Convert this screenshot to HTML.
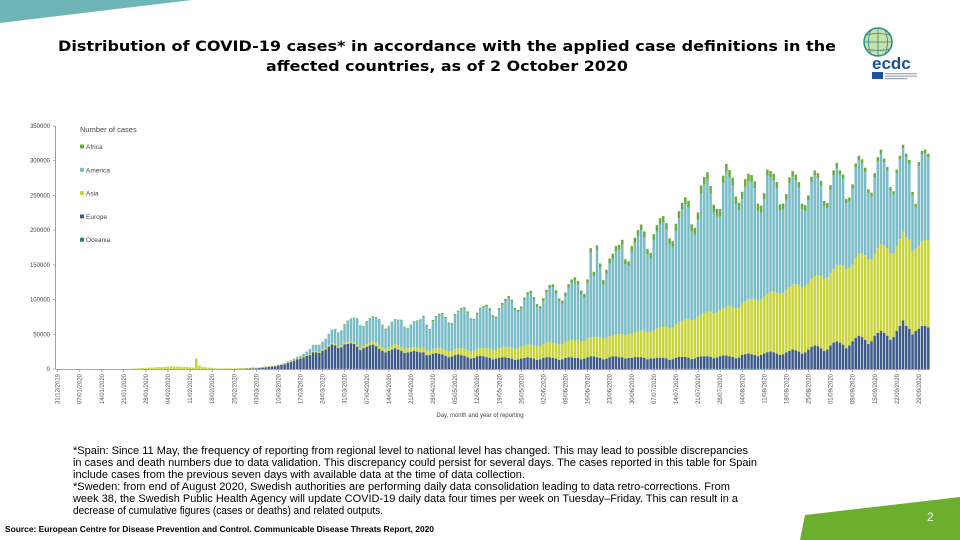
<!DOCTYPE html>
<html><head><meta charset="utf-8">
<style>
html,body{margin:0;padding:0;background:#fff;width:960px;height:540px;overflow:hidden}
svg{display:block;font-family:"Liberation Sans",sans-serif}
</style></head>
<body>
<svg id="root" width="960" height="540" viewBox="0 0 960 540" xmlns="http://www.w3.org/2000/svg">
  <polygon points="0,0 192,0 0,23" fill="#6fb5b8"/>
  <polygon points="805,515 960,497 960,540 800,540" fill="#6cae2e"/>
  <text x="927" y="521" font-size="12" fill="#fff">2</text>

  <g font-family="DejaVu Sans, sans-serif" font-weight="bold" font-size="14" text-anchor="middle" fill="#000">
    <text x="447" y="51" textLength="778" lengthAdjust="spacingAndGlyphs">Distribution of COVID-19 cases* in accordance with the applied case definitions in the</text>
    <text x="447" y="71" textLength="362" lengthAdjust="spacingAndGlyphs">affected countries, as of 2 October 2020</text>
  </g>

  <g>
    <circle cx="878" cy="42" r="14" fill="#c9e0a8" stroke="#2a8a8a" stroke-width="1.5"/>
    <path d="M864,42 H892 M878,28 V56 M866,35 Q878,32 890,35 M866,49 Q878,52 890,49 M871,30 Q866,42 871,54 M885,30 Q890,42 885,54" stroke="#2a8a8a" stroke-width="0.8" fill="none"/>
    <text x="872" y="69" font-size="17" fill="#1d4f9c" font-weight="bold">ecdc</text>
    <rect x="872" y="72" width="11" height="7" fill="#1d4fa0"/>
    <rect x="885" y="73" width="32" height="1.2" fill="#9aa9c8"/>
    <rect x="885" y="75.5" width="32" height="1.2" fill="#9aa9c8"/>
    <rect x="885" y="78" width="22" height="1.2" fill="#9aa9c8"/>
  </g>

  <g id="chart"></g>

  <g font-size="11" fill="#000">
    <text x="73" y="454" textLength="675" lengthAdjust="spacingAndGlyphs">*Spain: Since 11 May, the frequency of reporting from regional level to national level has changed. This may lead to possible discrepancies</text>
    <text x="73" y="466" textLength="684" lengthAdjust="spacingAndGlyphs">in cases and death numbers due to data validation. This discrepancy could persist for several days. The cases reported in this table for Spain</text>
    <text x="73" y="478" textLength="452" lengthAdjust="spacingAndGlyphs">include cases from the previous seven days with available data at the time of data collection.</text>
    <text x="73" y="490" textLength="657" lengthAdjust="spacingAndGlyphs">*Sweden: from end of August 2020, Swedish authorities are performing daily data consolidation leading to data retro-corrections. From</text>
    <text x="73" y="502" textLength="665" lengthAdjust="spacingAndGlyphs">week 38, the Swedish Public Health Agency will update COVID-19 daily data four times per week on Tuesday–Friday. This can result in a</text>
    <text x="73" y="514" textLength="310" lengthAdjust="spacingAndGlyphs">decrease of cumulative figures (cases or deaths) and related outputs.</text>
  </g>
  <text x="5" y="532" font-size="8" font-weight="bold" textLength="429" lengthAdjust="spacingAndGlyphs">Source: European Centre for Disease Prevention and Control. Communicable Disease Threats Report, 2020</text>
</svg>
<script>
// ---- data (thousands of cases per day, 31/12/2019 .. 02/10/2020), one row per week starting Tuesday ----
const tickLabels = ["31/12/2019","07/01/2020","14/01/2020","21/01/2020","28/01/2020","04/02/2020","11/02/2020","18/02/2020","25/02/2020","03/03/2020","10/03/2020","17/03/2020","24/03/2020","31/03/2020","07/04/2020","14/04/2020","21/04/2020","28/04/2020","05/05/2020","12/05/2020","19/05/2020","26/05/2020","02/06/2020","09/06/2020","16/06/2020","23/06/2020","30/06/2020","07/07/2020","14/07/2020","21/07/2020","28/07/2020","04/08/2020","11/08/2020","18/08/2020","25/08/2020","01/09/2020","08/09/2020","15/09/2020","22/09/2020","29/09/2020"];
const yTicks = [0,50000,100000,150000,200000,250000,300000,350000];
const seriesNames = ["Oceania","Europe","Asia","America","Africa"];
const europe = [
0,0,0,0,0,0,0, 0,0,0,0,0,0,0, 0,0,0,0,0,0,0, 0,0,0,0,0,0,0, 0,0,0,0,0,0,0, 0,0,0,0,0,0,0, 0,0,0,0,0,0,0, 0,0,0,0,0,0,0,
0.1,0.2,0.3,0.4,0.6,0.8,1.0, 1,1.5,2,2.5,3,3.5,4, 5,6,7,9,10,12,14, 15,17,19,20,24,24,23, 26,28,32,35,34,30,31,
35,36,37,36,32,27,30, 32,34,35,33,29,26,24, 26,28,30,28,26,23,24, 25,26,25,24,24,20,20, 22,23,22,21,19,17,18,
20,21,20,19,17,15,16, 18,19,18,17,16,14,15, 16,17,17,16,15,13,14, 15,16,17,16,15,13,14, 16,17,17,16,15,13,14,
16,17,17,16,16,14,15, 17,18,18,17,16,14,15, 17,18,18,17,17,15,16, 16,17,17,17,16,14,15, 15,16,16,16,15,13,14,
16,17,17,17,16,14,15, 17,18,18,18,17,15,16, 18,19,19,18,17,15,16, 20,21,22,21,20,18,20, 22,24,25,24,22,20,21,
24,26,28,27,25,22,24, 28,32,34,33,30,26,28, 34,38,40,38,35,30,34, 40,45,48,46,42,36,40, 48,52,55,52,48,42,46,
55,62,70,62,58,50,55, 58,62,62,60];
const asia = [
0,0,0,0,0,0,0, 0,0,0,0,0,0,0, 0,0,0,0,0,0,0, 0.1,0.2,0.3,0.5,0.7,1,1.5, 1.7,2,2,2.5,2.8,2.8,3, 3.5,3.8,3.8,3.5,3.3,3,3, 2.5,2,15,5,3,2.5,2, 1.8,0.8,0.8,1,1,1,1,
1,1,1,1,1,1,1.5, 1,1,1,1,1,1,1, 1,1,1,1,1,1,1, 1,1,1,1.5,1.5,1.5,1.5, 2,2,2,2,2,2,2,
3,3,3,3,3,3,3, 4,4,5,5,5,5,5, 5,6,6,6,6,6,6, 6,6,6,6,7,7,6, 7,7,8,8,8,8,8,
9,9,10,10,10,10,10, 11,12,12,13,13,13,13, 14,15,15,16,16,16,16, 17,18,18,19,19,19,19, 20,21,22,22,22,22,22,
23,24,25,25,26,26,26, 27,28,28,29,30,30,30, 30,31,32,33,34,34,34, 35,36,37,38,39,39,39, 40,42,44,45,46,46,46,
48,50,52,55,56,56,56, 58,60,62,64,65,65,65, 66,68,70,72,72,72,72, 74,76,78,80,80,80,80, 82,84,86,88,88,88,88,
90,92,94,95,96,96,96, 95,98,100,102,104,104,104, 104,106,110,112,114,114,112, 110,115,118,120,122,122,118, 118,122,125,126,126,125,120,
122,125,128,128,128,120,118, 120,122,124,125];
const america = [
0,0,0,0,0,0,0, 0,0,0,0,0,0,0, 0,0,0,0,0,0,0, 0,0,0,0,0,0,0, 0,0,0,0,0,0,0, 0,0,0,0,0,0,0, 0,0,0,0,0,0,0, 0,0,0,0,0,0,0,
0,0,0,0,0,0,0, 0,0,0,0.1,0.1,0.1,0.2, 0.3,0.5,0.8,1,1.5,2,2.5, 3,4,5,7,9,9,10, 11,13,16,19,21,20,22,
26,30,32,34,37,32,28, 32,34,35,36,37,32,28, 30,33,35,36,38,31,28, 32,36,38,40,44,35,30, 40,45,48,50,46,40,38,
48,52,56,58,54,46,44, 50,55,58,60,56,48,45, 55,60,66,70,66,56,52, 55,66,72,74,66,58,54, 62,72,78,80,72,62,58,
66,76,82,86,80,68,62, 80,122,88,126,100,78,92, 105,110,120,122,128,102,98, 118,128,138,145,135,112,105, 130,140,148,150,140,120,115,
135,150,160,165,160,128,122, 140,175,185,190,170,145,138, 135,180,195,185,175,150,140, 150,165,170,168,160,130,125, 140,170,165,160,150,120,120,
130,150,155,150,140,112,108, 120,140,145,140,130,105,100, 120,135,140,130,125,95,95, 110,130,135,130,120,95,90, 110,125,130,120,112,90,85,
105,115,120,115,110,80,60, 115,125,125,120];
const africa = [
0,0,0,0,0,0,0, 0,0,0,0,0,0,0, 0,0,0,0,0,0,0, 0,0,0,0,0,0,0, 0,0,0,0,0,0,0, 0,0,0,0,0,0,0, 0,0,0,0,0,0,0, 0,0,0,0,0,0,0,
0,0,0,0,0,0,0, 0,0,0,0,0,0,0, 0,0,0,0,0,0,0.1, 0.1,0.1,0.1,0.2,0.2,0.2,0.3, 0.3,0.3,0.4,0.4,0.5,0.5,0.5,
0.6,0.6,0.7,0.8,0.8,0.8,0.9, 1,1,1,1,1,1,1, 1,1,1,1,1,1,1, 1,1,1,1.5,1.5,1.5,1.5, 1.5,1.5,1.5,1.5,2,2,2,
2,2,2,2,2,2,2, 2,2,2.5,2.5,2.5,2.5,2.5, 2.5,3,3,3,3,3,3, 3,3,3.5,3.5,3.5,3.5,3.5, 4,4,4,4,4.5,4.5,4.5,
5,5,5,5,5,5,5, 5,6,6,6,6,6,6, 7,7,7,7,7,7,7, 8,8,8,8,8,8,8, 9,9,9,9,9,9,9,
10,10,10,10,10,10,10, 10,11,11,11,11,11,11, 11,11,11,11,11,11,11, 11,11,11,10,10,10,10, 9,9,9,9,9,9,9,
8,8,8,8,8,8,8, 7,7,7,7,7,7,7, 7,7,7,6,6,6,6, 6,6,6,6,6,6,6, 6,6,6,5,5,5,5,
5,5,5,5,5,5,5, 5,5,5,5];
const oceania = [
0,0,0,0,0,0,0, 0,0,0,0,0,0,0, 0,0,0,0,0,0,0, 0,0,0,0,0,0,0, 0,0,0,0,0,0,0, 0,0,0,0,0,0,0, 0,0,0,0,0,0,0, 0,0,0,0,0,0,0,
0,0,0,0,0,0,0, 0,0,0,0,0,0,0, 0,0,0,0,0,0,0, 0,0,0,0.1,0.1,0.1,0.1, 0.2,0.2,0.3,0.3,0.3,0.3,0.3,
0.3,0.3,0.2,0.2,0.2,0.2,0.1, 0.1,0.1,0.1,0,0,0,0, 0,0,0,0,0,0,0, 0,0,0,0,0,0,0, 0,0,0,0,0,0,0,
0,0,0,0,0,0,0, 0,0,0,0,0,0,0, 0,0,0,0,0,0,0, 0,0,0,0,0,0,0, 0,0,0,0,0,0,0,
0,0,0,0,0,0,0, 0,0,0,0,0,0,0, 0,0,0,0,0,0,0, 0.1,0.1,0.1,0.1,0.1,0.1,0.1, 0.2,0.2,0.2,0.2,0.2,0.2,0.2,
0.3,0.3,0.3,0.3,0.3,0.3,0.3, 0.4,0.4,0.4,0.5,0.5,0.5,0.5, 0.5,0.5,0.5,0.5,0.5,0.5,0.5, 0.4,0.4,0.4,0.4,0.3,0.3,0.3, 0.3,0.3,0.2,0.2,0.2,0.2,0.2,
0.1,0.1,0.1,0.1,0.1,0.1,0.1, 0,0,0,0,0,0,0, 0,0,0,0,0,0,0, 0,0,0,0,0,0,0, 0,0,0,0,0,0,0,
0,0,0,0,0,0,0, 0,0,0,0];

const NS = "http://www.w3.org/2000/svg";
const colors = {Oceania:"#2b7f7b", Europe:"#3d5a8b", Asia:"#c9d43b", America:"#79bcc7", Africa:"#6aab3d"};
const seriesData = {Oceania:oceania, Europe:europe, Asia:asia, America:america, Africa:africa};
const plot = {x0:56, x1:930, yBase:369, yTop:126, yMax:350000};
const nDays = europe.length;
const bandW = (plot.x1 - plot.x0) / nDays;
function xScale(i){ return plot.x0 + i * bandW; }
function yScale(v){ return plot.yBase - (v / plot.yMax) * (plot.yBase - plot.yTop); }
const chart = document.getElementById("chart");
function mk(tag, attrs){ const e = document.createElementNS(NS, tag); for (const k in attrs) e.setAttribute(k, attrs[k]); return e; }

// bars
const barsG = mk("g", {});


chart.appendChild(barsG);
for (let i = 0; i < nDays; i++) {
  let cum = 0;
  for (const s of seriesNames) {
    const v = seriesData[s][i] * 1000;
    if (v <= 0) continue;
    const yA = yScale(cum), yB = yScale(cum + v);
    const r = mk("rect", {x: xScale(i) + 0.2, y: yB, width: bandW - 0.65, height: yA - yB, fill: colors[s]});
    
    
    barsG.appendChild(r);
    cum += v;
  }
}

// axes
const yAxis = mk("line", {x1: plot.x0 - 0.5, x2: plot.x0 - 0.5, y1: plot.yTop, y2: plot.yBase, stroke: "#888", "stroke-width": 0.8});


chart.appendChild(yAxis);
const xAxis = mk("line", {x1: plot.x0 - 0.5, x2: plot.x1, y1: plot.yBase + 0.5, y2: plot.yBase + 0.5, stroke: "#888", "stroke-width": 0.8});


chart.appendChild(xAxis);

for (const t of yTicks) {
  const y = yScale(t);
  const tk = mk("line", {x1: plot.x0 - 3, x2: plot.x0 - 0.5, y1: y, y2: y, stroke: "#888", "stroke-width": 0.6});
  
  
  chart.appendChild(tk);
  const tx = mk("text", {x: plot.x0 - 6, y: y + 2, "font-size": 6, fill: "#444", "text-anchor": "end"});
  tx.textContent = String(t);
  
  
  chart.appendChild(tx);
}
for (let k = 0; k < tickLabels.length; k++) {
  const x = xScale(k * 7) + bandW / 2;
  const tk = mk("line", {x1: x, x2: x, y1: plot.yBase, y2: plot.yBase + 3, stroke: "#888", "stroke-width": 0.6});
  
  
  chart.appendChild(tk);
  const tx = mk("text", {x: 0, y: 0, "font-size": 6, fill: "#555", "text-anchor": "end", transform: "translate(" + (x + 2) + "," + (plot.yBase + 5) + ") rotate(-90)"});
  tx.textContent = tickLabels[k];
  
  
  chart.appendChild(tx);
}
const xt = mk("text", {x: 480, y: 417, "font-size": 6, fill: "#444", "text-anchor": "middle"});
xt.textContent = "Day, month and year of reporting";


chart.appendChild(xt);

// legend
const lg = mk("g", {});


chart.appendChild(lg);
const lt = mk("text", {x: 80, y: 132, "font-size": 7.5, fill: "#444"});
lt.textContent = "Number of cases";


lg.appendChild(lt);
const legendOrder = ["Africa","America","Asia","Europe","Oceania"];
legendOrder.forEach((s, j) => {
  const y = 147 + j * 23.3;
  const sw = mk("rect", {x: 80, y: y - 2.5, width: 4, height: 4, fill: colors[s]});
  
  
  lg.appendChild(sw);
  const t = mk("text", {x: 86, y: y + 2, "font-size": 6.5, fill: "#444"});
  t.textContent = s;
  
  
  lg.appendChild(t);
});
</script>
</body></html>
